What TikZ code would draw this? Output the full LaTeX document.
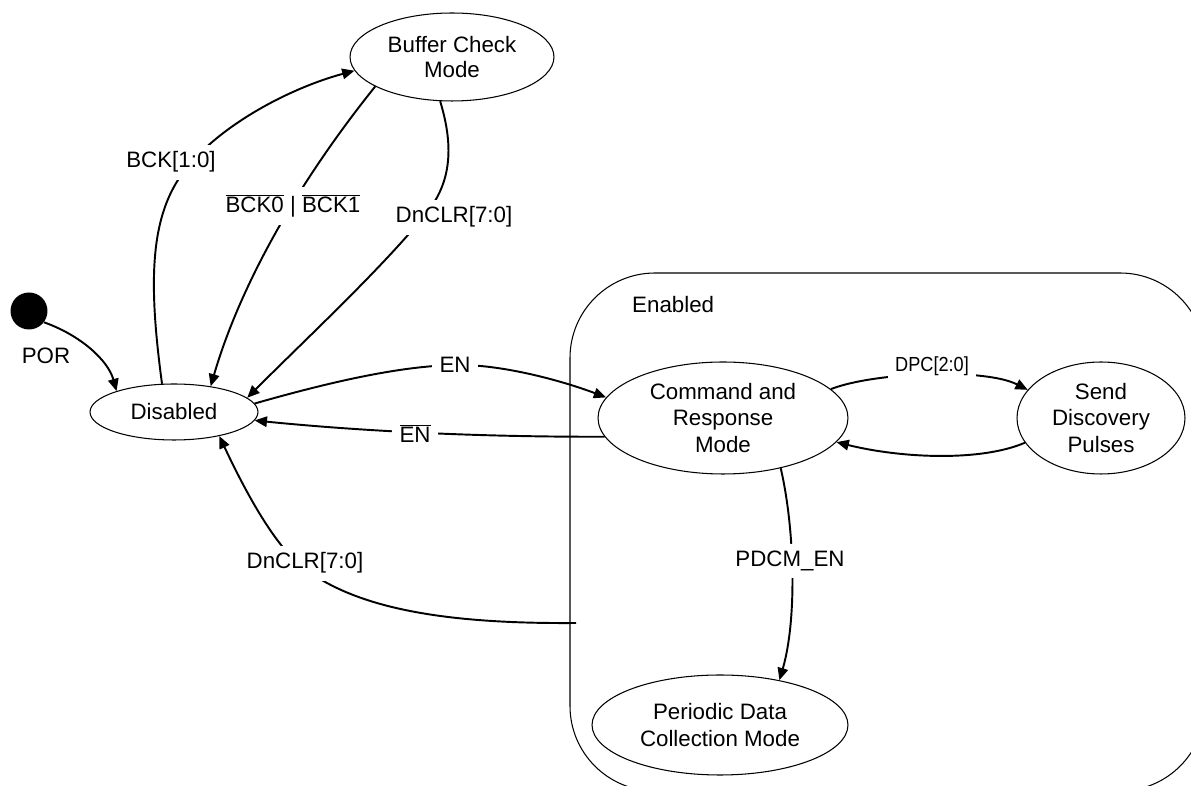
\documentclass[tikz,border=0pt]{standalone}
\usepackage{fontspec}
\setmainfont{Liberation Sans}
\usetikzlibrary{arrows.meta,shapes.geometric}
\newcommand\ovl[1]{$\overline{\mbox{#1}}$}
\begin{document}
\begin{tikzpicture}[x=0.02cm,y=-0.02cm,
  every node/.style={font=\fontsize{12.7}{15.3}\selectfont},
  st/.style={draw,ellipse,line width=0.6pt,inner sep=0pt,align=center},
  tr/.style={line width=1.1pt,-{Triangle[length=7pt,width=6pt]}},
  lab/.style={fill=white,inner sep=4pt,anchor=base},
  small/.style={font=\fontsize{11.6}{13}\selectfont}
]
\useasboundingbox (0,0) rectangle (1191,786);
% container
\begin{scope}
\clip (0,0) rectangle (1191,786);
\draw[line width=0.6pt,rounded corners=1.7cm] (570,273) rectangle (1205,791);
\end{scope}
\node[anchor=base west] (lenab) at (626,313) {Enabled};
% states
\node[circle,fill=black,minimum size=0.74cm,inner sep=0pt] (init) at (29,311) {};
\node[st,minimum width=3.36cm,minimum height=1.12cm] (dis) at (174,412) {Disabled};
\node[st,minimum width=4.08cm,minimum height=1.76cm,font=\fontsize{12.7}{14.2}\selectfont] (buf) at (452,57) {Buffer Check\\Mode};
\node[st,minimum width=5.0cm,minimum height=2.24cm] (cmd) at (723,418) {Command and\\Response\\Mode};
\node[st,minimum width=3.36cm,minimum height=2.24cm] (send) at (1101,418) {Send\\Discovery\\Pulses};
\node[st,minimum width=5.12cm,minimum height=2.0cm] (pdc) at (720,725) {Periodic Data\\Collection Mode};
% transitions
\draw[tr] (init.-37) .. controls (80,335) and (108,360) .. (dis.160);
\draw[tr] (dis.113) .. controls (148,280) and (150,215) .. (185,170) .. controls (220,125) and (290,88) .. (buf.188);
\draw[tr] (buf.201) .. controls (281,204) and (234,306) .. (dis.35);
\draw[tr] (buf.255) .. controls (455,150) and (450,185) .. (425,215) .. controls (380,270) and (310,335) .. (dis.11);
\draw[tr] (dis.6) .. controls (330,382) and (400,366) .. (455,365) .. controls (500,364) and (560,380) .. (cmd.170);
\draw[tr] (cmd.189) .. controls (500,437) and (380,433) .. (dis.-6);
\draw[tr] (cmd.15) .. controls (875,372) and (985,368) .. (send.159);
\draw[tr] (send.198) .. controls (980,462) and (900,458) .. (cmd.-12);
\draw[tr] (cmd.-41) .. controls (795,530) and (797,620) .. (pdc.37);
\coordinate (dn) at (576,623);
\draw[tr] (dn) .. controls (450,624) and (355,610) .. (300,565) .. controls (270,540) and (240,480) .. (dis.-28);
% labels
\node[lab] (lpor) at (46,364) {POR};
\node[lab] (lbck) at (171,168) {BCK[1:0]};
\node[lab] (lbck01) at (293,213) {\ovl{BCK0} | \ovl{BCK1}};
\node[lab] (ldn1) at (454,223) {DnCLR[7:0]};
\node[lab] (len) at (455,373) {EN};
\node[lab] (lenb) at (415,443) {\ovl{EN}};
\node[lab] (ldn2) at (305,569) {DnCLR[7:0]};
\node[lab,small] (ldpc) at (932,372) {\scalebox{0.89}[1]{DPC[2:0]}};
\node[lab] (lpdcm) at (790,567) {PDCM\_EN};
\end{tikzpicture}
\end{document}
